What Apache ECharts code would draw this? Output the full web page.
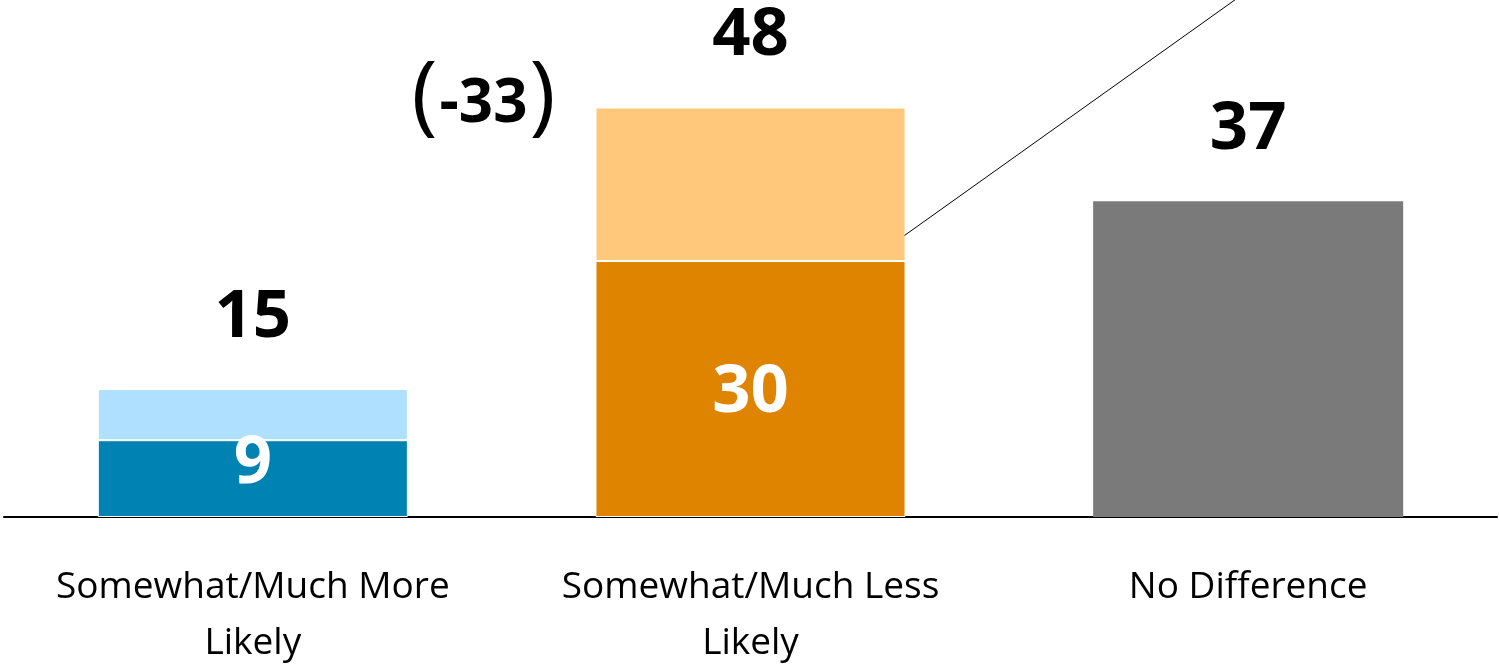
<!DOCTYPE html>
<html>
<head>
<meta charset="utf-8">
<script src="https://cdn.jsdelivr.net/npm/echarts@6/dist/echarts.min.js"></script>
<style>
html,body{margin:0;padding:0;background:#fff;}
#main{width:1499px;height:668px;}
</style>
</head>
<body>
<div id="main"></div>
<script>
const categories = ['Somewhat/Much More\nLikely', 'Somewhat/Much Less\nLikely', 'No Difference'];
const strongValues = [9, 30, null];
const somewhatValues = [6, 18, null];
const noDiffValues = [null, null, 37];
const totals = [15, 48, 37];
const netLabel = '-33';
const calloutValue = 33;

const strongColors = ['#0083B3', '#DE8400'];
const somewhatColors = ['#B0E0FF', '#FFC87A'];
const grayColor = '#7A7A7A';

const FONT = '"Open Sans", "DejaVu Sans", sans-serif';
const bigLabel = { fontFamily: FONT, fontWeight: 'bold', fontSize: 67 };

const chart = echarts.init(document.getElementById('main'), null, { renderer: 'canvas' });

const strongData = strongValues.map((v, i) => v == null ? '-' : {
  value: v,
  itemStyle: { color: strongColors[i] },
  label: i === 0 ? { offset: [0, -15] } : { offset: [0, 4] }
});
const somewhatData = somewhatValues.map((v, i) => v == null ? '-' : {
  value: v,
  itemStyle: { color: somewhatColors[i] }
});

const option = {
  animation: false,
  backgroundColor: '#ffffff',
  grid: { left: 4, right: 2, top: 0, bottom: 151, containLabel: false, outerBoundsMode: 'none' },
  xAxis: {
    type: 'category',
    data: categories,
    axisLine: { show: true, lineStyle: { color: '#000', width: 2 } },
    axisTick: { show: false },
    axisLabel: {
      interval: 0,
      margin: 42,
      color: '#000',
      fontFamily: FONT,
      fontSize: 37,
      lineHeight: 56
    }
  },
  yAxis: {
    type: 'value', min: 0, max: 60.6,
    show: false, splitLine: { show: false }
  },
  series: [
    {
      name: 'Strong', type: 'bar', stack: 'total', barWidth: '62.3%',
      itemStyle: { borderColor: '#fff', borderWidth: 1 },
      label: Object.assign({ show: true, position: 'inside', color: '#fff' }, bigLabel),
      data: strongData
    },
    {
      name: 'Somewhat', type: 'bar', stack: 'total',
      itemStyle: { borderColor: '#fff', borderWidth: 1 },
      label: Object.assign({
        show: true, position: 'top', distance: 38, color: '#000',
        formatter: p => totals[p.dataIndex]
      }, bigLabel),
      data: somewhatData
    },
    {
      name: 'No Difference', type: 'bar', stack: 'total',
      itemStyle: { color: grayColor },
      label: Object.assign({ show: true, position: 'top', distance: 38, color: '#000' }, bigLabel),
      data: noDiffValues.map(v => v == null ? '-' : v)
    }
  ]
};
chart.setOption(option);

// Annotations derived from the axes
const barTop = chart.convertToPixel({ gridIndex: 0 }, [1, totals[1]]);
const catWidth = chart.convertToPixel({ gridIndex: 0 }, [2, 0])[0] - chart.convertToPixel({ gridIndex: 0 }, [1, 0])[0];
const barHalf = catWidth * 0.623 / 2;
const lineStart = chart.convertToPixel({ gridIndex: 0 }, [1, calloutValue]);
const sx = lineStart[0] + barHalf - 1;
const sy = lineStart[1];

chart.setOption({
  graphic: [
    {
      type: 'line',
      shape: { x1: sx, y1: sy, x2: sx + 331 * 1.3, y2: sy - 236 * 1.3 },
      style: { stroke: '#000', lineWidth: 1 },
      z: 10
    },
    {
      type: 'text',
      x: barTop[0] - 267,
      y: barTop[1] - 3,
      style: {
        text: '{b|(}{n|' + netLabel + '}{b|)}',
        align: 'center',
        verticalAlign: 'middle',
        rich: {
          b: { fontFamily: FONT, fontSize: 88, fontWeight: 'normal', fill: '#000', padding: [0, 2, 12, 2] },
          n: { fontFamily: FONT, fontSize: 60, fontWeight: 'bold', fill: '#000' }
        }
      },
      z: 10
    }
  ]
});
</script>
</body>
</html>
